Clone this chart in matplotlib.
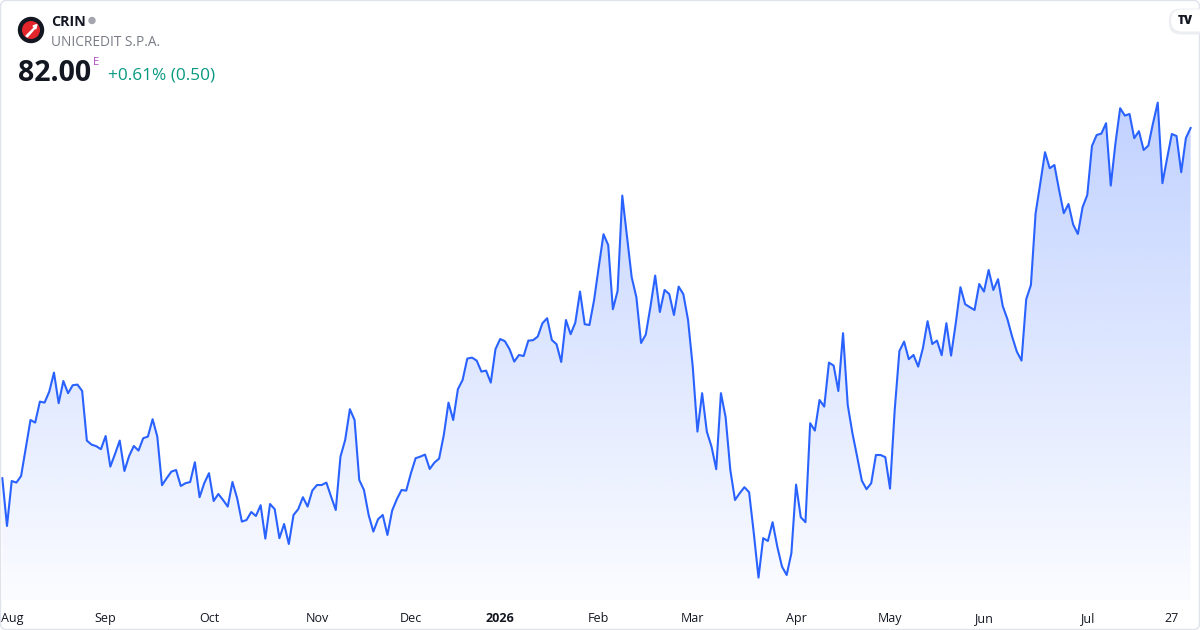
import numpy as np
import pandas as pd
import matplotlib.pyplot as plt
from matplotlib.patches import Circle, FancyBboxPatch, Polygon

plt.rcParams['font.family'] = ['Open Sans', 'DejaVu Sans']

# daily closes (EUR)
prices = [
    64.49, 62.10, 64.35, 64.27, 64.60, 65.99, 67.40, 67.27, 68.32, 68.27,
    68.82, 69.77, 68.24, 69.35, 68.74, 69.14, 69.17, 68.85, 66.37, 66.17,
    66.09, 65.94, 66.60, 65.07, 65.70, 66.37, 64.85, 65.60, 66.10, 65.87,
    66.49, 66.57, 67.44, 66.57, 64.14, 64.49, 64.82, 64.90, 64.10, 64.24,
    64.30, 65.29, 63.54, 64.24, 64.74, 63.35, 63.70, 63.40, 63.07, 64.30,
    63.49, 62.32, 62.40, 62.80, 62.60, 63.14, 61.47, 63.20, 62.94, 61.49,
    62.20, 61.20, 62.65, 62.94, 63.54, 63.07, 63.87, 64.15, 64.15, 64.27,
    63.57, 62.90, 65.57, 66.40, 67.94, 67.40, 64.40, 63.90, 62.65, 61.82,
    62.44, 62.65, 61.65, 62.87, 63.44, 63.90, 63.87, 64.74, 65.49, 65.57,
    65.67, 64.95, 65.27, 65.47, 66.65, 68.27, 67.40, 68.94, 69.40, 70.47,
    70.52, 70.37, 69.82, 69.87, 69.27, 70.94, 71.45, 71.34, 70.94, 70.32,
    70.65, 70.60, 71.37, 71.39, 71.57, 72.24, 72.49, 71.40, 71.19, 70.30,
    72.40, 71.69, 72.27, 73.82, 72.19, 72.15, 73.40, 75.07, 76.69, 76.15,
    72.94, 73.85, 78.62, 76.57, 74.54, 73.54, 71.25, 71.67, 73.07, 74.62,
    72.80, 73.90, 73.70, 72.65, 74.07, 73.69, 72.40, 70.07, 66.82, 68.74,
    66.82, 66.07, 64.94, 68.74, 67.54, 64.90, 63.40, 63.74, 64.04, 63.79,
    61.74, 59.52, 61.49, 61.35, 62.29, 61.07, 60.07, 59.65, 60.74, 64.17,
    62.54, 62.29, 67.24, 66.87, 68.40, 68.07, 70.27, 70.12, 68.85, 71.74,
    68.15, 66.74, 65.57, 64.37, 63.94, 64.24, 65.65, 65.65, 65.54, 63.97,
    67.90, 70.85, 71.32, 70.44, 70.65, 70.07, 70.99, 72.34, 71.20, 71.37,
    70.64, 72.24, 70.62, 72.24, 74.04, 73.19, 73.04, 72.90, 74.20, 73.82,
    74.90, 73.90, 74.44, 73.10, 72.44, 71.57, 70.82, 70.37, 73.44, 74.15,
    77.74, 79.24, 80.79, 79.99, 80.15, 78.90, 77.74, 78.20, 77.17, 76.70,
    78.04, 78.65, 81.10, 81.65, 81.72, 82.24, 79.12, 81.24, 82.99, 82.62,
    82.70, 81.49, 81.84, 80.90, 81.12, 82.24, 83.27, 79.24, 80.49, 81.70,
    81.60, 79.79, 81.50, 82.00,
]

# Borsa Italiana closing days in the period
holidays = ['2025-08-15', '2025-12-24', '2025-12-25', '2025-12-26', '2025-12-31',
            '2026-01-01', '2026-04-03', '2026-04-06', '2026-05-01']
dates = pd.bdate_range(end='2026-07-31', periods=len(prices), freq='C', holidays=holidays)

ticker = 'CRIN'
company = 'UNICREDIT S.P.A.'
last_price = '82.00'
change_txt = '+0.61% (0.50)'

x = np.arange(len(prices))
y = np.array(prices)
ymin, ymax = 58.4, 88.4

fig = plt.figure(figsize=(12, 6.3), dpi=100, facecolor='white')
ax = fig.add_axes([0, 30 / 630, 1, 600 / 630])
ax.set_axis_off()

# gradient area under the line
grad = np.linspace(0, 1, 256).reshape(-1, 1)
rgba = np.zeros((256, 1, 4))
rgba[..., 0] = 41 / 255
rgba[..., 1] = 98 / 255
rgba[..., 2] = 1.0
rgba[..., 3] = 0.02 + 0.27 * grad
im = ax.imshow(rgba, extent=[x[0], x[-1], ymin, y.max()], origin='lower',
               aspect='auto', zorder=1, interpolation='bilinear')
verts = [(x[0], ymin)] + list(zip(x, y)) + [(x[-1], ymin)]
clip = Polygon(verts, closed=True, facecolor='none', edgecolor='none')
ax.add_patch(clip)
im.set_clip_path(clip)

ax.plot(x, y, color='#2962ff', lw=1.5, zorder=3)
ax.set_xlim(-0.49, 255.0)
ax.set_ylim(ymin, ymax)

# time axis labels: first bar of each month, plus the last Monday
month_start = [i for i in range(1, len(dates)) if dates[i].month != dates[i - 1].month]
trans = ax.get_xaxis_transform()
lab_y = -0.037
for i in month_start:
    d = dates[i]
    if d.month == 1:
        ax.text(i, lab_y, str(d.year), transform=trans, ha='center', va='baseline',
                fontsize=9, fontweight='bold', color='#131722', clip_on=False)
    elif i == month_start[0]:
        ax.text(0.001, lab_y, d.strftime('%b'), transform=ax.transAxes, ha='left',
                va='baseline', fontsize=9, color='#131722', clip_on=False)
    else:
        ax.text(i, lab_y, d.strftime('%b'), transform=trans, ha='center', va='baseline',
                fontsize=9, color='#131722', clip_on=False)
i27 = int(np.where(dates == pd.Timestamp('2026-07-27'))[0][0])
ax.text(i27, lab_y, '27', transform=trans, ha='center', va='baseline',
        fontsize=9, color='#131722', clip_on=False)

# overlay in pixel coordinates for the header and frame
ov = fig.add_axes([0, 0, 1, 1], facecolor='none')
ov.set_xlim(0, 1200)
ov.set_ylim(630, 0)
ov.set_axis_off()

ov.add_patch(FancyBboxPatch((0.5, 0.5), 1199, 629, boxstyle='round,pad=0,rounding_size=6',
                            facecolor='none', edgecolor='#e0e3eb', lw=1))

# company logo
ov.add_patch(Circle((31, 30), 12.5, color='#131722'))
ov.add_patch(Circle((31, 30), 8.3, color='#e3262b'))
ov.add_patch(Polygon([(26, 36), (34.5, 27.5), (33, 26), (37, 24.5), (35.8, 28.8),
                      (34.8, 28.4), (27.5, 36.8)], closed=True, color='white'))

ov.text(51, 26, ticker, fontsize=10.3, fontweight='bold', color='#131722', va='baseline')
ov.add_patch(Circle((92, 20.5), 3, color='#a3a6af'))
ov.text(51, 46, company, fontsize=9.8, color='#787b86', va='baseline')
ov.text(18, 81, last_price, fontsize=20.5, fontweight='bold', color='#131722', va='baseline')
ov.text(93, 65, 'E', fontsize=8, color='#ab47bc', va='baseline')
ov.text(108, 79.5, change_txt, fontsize=12.4, color='#089981', va='baseline')

# TradingView badge
ov.add_patch(FancyBboxPatch((1169, 8.5), 42, 26, boxstyle='round,pad=0,rounding_size=12',
                            facecolor='#eceef2', edgecolor='none'))
ov.add_patch(FancyBboxPatch((1171, 9.5), 40, 22, boxstyle='round,pad=0,rounding_size=11',
                            facecolor='white', edgecolor='none'))
ov.text(1185, 21, 'TV', fontsize=8.5, fontweight='heavy', color='#131722',
        ha='center', va='center')

fig.savefig('out.png', dpi=100, facecolor='white')
